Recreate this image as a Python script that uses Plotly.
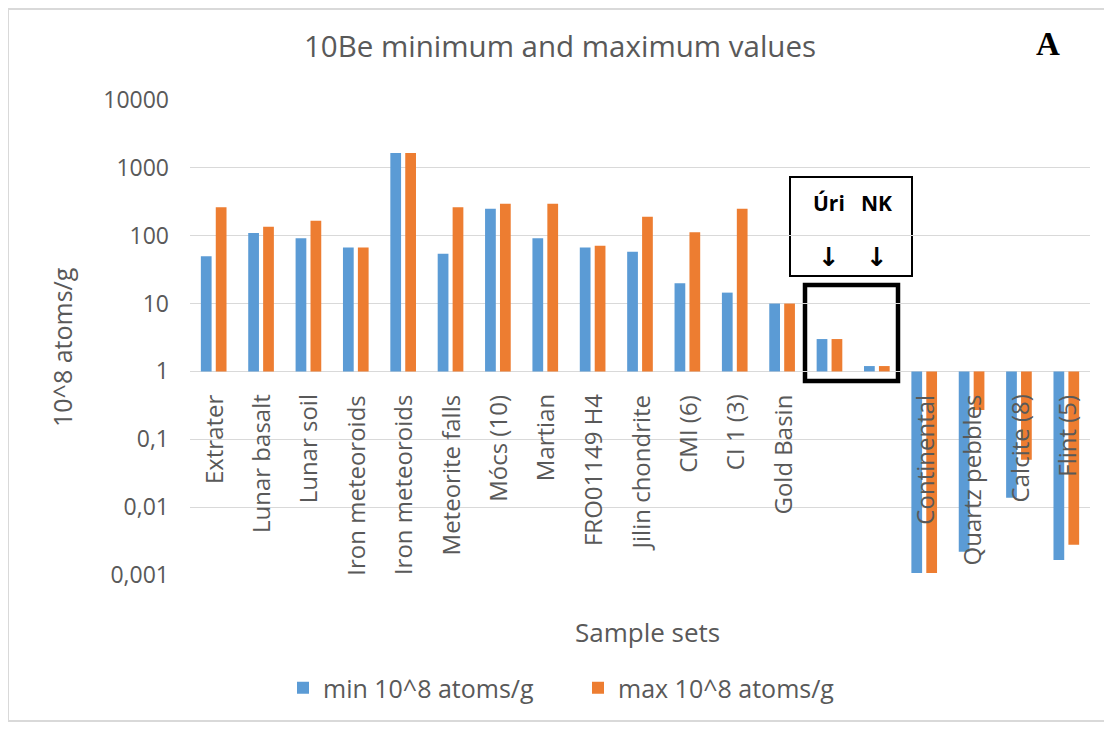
import plotly.graph_objects as go

categories = ["Extrater", "Lunar basalt", "Lunar soil", "Iron meteoroids", "Iron meteoroids",
              "Meteorite falls", "Mócs (10)", "Martian", "FRO01149 H4", "Jilin chondrite",
              "CMI (6)", "CI 1 (3)", "Gold Basin", "Úri", "NK",
              "Continental", "Quartz pebbles", "Calcite (8)", "Flint (5)"]
min_vals = [50, 110, 92, 67, 1650, 54, 250, 92, 67, 58, 20, 14.5, 10, 3, 1.2,
            0.00107, 0.0022, 0.0137, 0.00166]
max_vals = [262, 136, 166, 67, 1650, 262, 296, 296, 71, 190, 112, 250, 10, 3, 1.2,
            0.00107, 0.27, 0.05, 0.0028]
hidden_labels = ["Úri", "NK"]
tick_vals = [10000, 1000, 100, 10, 1, 0.1, 0.01, 0.001]
tick_text = ["10000", "1000", "100", "10", "1", "0,1", "0,01", "0,001"]

OFF = 8  # page body margin
W, H = 1112 - OFF, 731 - OFF
L, R, T, B = 190, 1090, 100, 575  # plot area in page pixels
GRAY = "#595959"
FONT = "Open Sans"


def px(xp):
    return (xp - L) / (R - L)


def py(yp):
    return (B - yp) / (B - T)


xs = list(range(len(categories)))
base = [1] * len(categories)

fig = go.Figure()
fig.add_trace(go.Bar(x=xs, y=[v - 1 for v in min_vals], base=base, name="min 10^8 atoms/g",
                     marker=dict(color="#5B9BD5", line=dict(width=0))))
fig.add_trace(go.Bar(x=xs, y=[v - 1 for v in max_vals], base=base, name="max 10^8 atoms/g",
                     marker=dict(color="#ED7D31", line=dict(width=0))))

annotations = []
for i, c in enumerate(categories):
    if c in hidden_labels:
        continue
    annotations.append(dict(x=i, y=0, xref="x", yref="y", text=c, textangle=-90,
                            showarrow=False, xanchor="center", yanchor="top", yshift=-21,
                            font=dict(family=FONT, size=24, color=GRAY)))

# Úri / NK callout
for name in hidden_labels:
    i = categories.index(name)
    annotations.append(dict(x=i, y=py(203), xref="x", yref="paper", text="<b>%s</b>" % name,
                            showarrow=False, xanchor="center", yanchor="middle",
                            font=dict(family=FONT, size=21, color="black")))
    annotations.append(dict(x=i, y=py(257), xref="x", yref="paper", text="<b>↓</b>",
                            showarrow=False, xanchor="center", yanchor="middle",
                            font=dict(family="DejaVu Sans", size=26, color="black")))

annotations += [
    dict(x=px(62), y=py(347), xref="paper", yref="paper", text="10^8 atoms/g", textangle=-90,
         showarrow=False, xanchor="center", yanchor="middle",
         font=dict(family=FONT, size=25, color=GRAY)),
    dict(x=px(647), y=py(632), xref="paper", yref="paper", text="Sample sets",
         showarrow=False, xanchor="center", yanchor="middle",
         font=dict(family=FONT, size=26, color=GRAY)),
    dict(x=px(1048), y=py(44), xref="paper", yref="paper", text="<b>A</b>",
         showarrow=False, xanchor="center", yanchor="middle",
         font=dict(family="Liberation Serif", size=33, color="black")),
]

shapes = [
    dict(type="rect", xref="paper", yref="paper", x0=px(8), x1=px(1105), y0=py(9), y1=py(721),
         line=dict(color="#D9D9D9", width=2), fillcolor="rgba(0,0,0,0)", layer="below"),
    dict(type="rect", xref="paper", yref="paper", x0=px(806), x1=px(896), y0=py(386), y1=py(470),
         line=dict(width=0), fillcolor="white", layer="between"),
    dict(type="rect", xref="paper", yref="paper", x0=px(805), x1=px(898), y0=py(285), y1=py(381),
         line=dict(color="black", width=4.5), fillcolor="white", layer="between"),
    dict(type="rect", xref="paper", yref="paper", x0=px(790), x1=px(912), y0=py(177), y1=py(276),
         line=dict(color="black", width=2), fillcolor="white", layer="between"),
]

fig.update_layout(
    width=W, height=H,
    margin=dict(l=L - OFF, r=W - (R - OFF), t=T - OFF, b=H - (B - OFF), pad=0),
    paper_bgcolor="white", plot_bgcolor="white",
    barmode="group", bargap=0.37, bargroupgap=0.28,
    title=dict(text="10Be minimum and maximum values", x=px(560), xref="paper", xanchor="center",
               y=1 - (47 - OFF) / H, yanchor="middle",
               font=dict(family=FONT, size=29.5, color=GRAY)),
    xaxis=dict(range=[-0.5, len(categories) - 0.5], showticklabels=False, showgrid=False,
               zeroline=False, showline=False, ticks=""),
    yaxis=dict(type="log", range=[-3, 4], tickvals=tick_vals, ticktext=tick_text,
               showgrid=True, gridcolor="#D9D9D9", gridwidth=1.4, zeroline=False,
               showline=False, ticks="", ticklabelstandoff=20,
               tickfont=dict(family=FONT, size=23, color=GRAY)),
    legend=dict(orientation="h", x=px(578), xanchor="center", y=py(688), yanchor="middle",
                font=dict(family=FONT, size=25, color=GRAY), entrywidth=250,
                bgcolor="rgba(0,0,0,0)"),
    annotations=annotations,
    shapes=shapes,
    showlegend=True,
)

fig.write_html("out.html")
